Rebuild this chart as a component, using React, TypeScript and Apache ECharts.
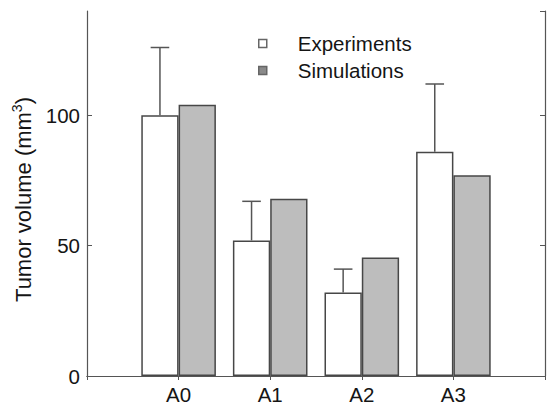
import React, { useEffect, useRef } from "react";
import * as echarts from "echarts";

const categories = ["", "A0", "A1", "A2", "A3", ""];
const experiments = [null, 100, 52, 32, 86, null];
const simulations = [null, 104, 68, 45.5, 77, null];
const expErrorTop = [null, 126, 67, 41, 112, null];
const yTicks = { min: 0, max: 140, interval: 50 };

const BAR_W = 37.3;
const AXIS_COLOR = "#555555";
const EDGE = "#474747";
const TEXT = "#151515";
const FONT = "'Liberation Sans', Arial, sans-serif";

export default function App() {
  const ref = useRef<HTMLDivElement>(null);
  useEffect(() => {
    if (!ref.current) return;
    const chart = echarts.init(ref.current, undefined, { renderer: "svg" });
    const errData = categories
      .map((_, i) => (experiments[i] == null ? null : [i, experiments[i], expErrorTop[i]]))
      .filter((d) => d != null);
    chart.setOption({
      animation: false,
      backgroundColor: "#ffffff",
      textStyle: { fontFamily: FONT },
      grid: { left: 87, right: 1, top: 11, bottom: 27, containLabel: false },
      legend: {
        left: 253,
        top: 28,
        orient: "vertical",
        icon: "rect",
        itemWidth: 8,
        itemHeight: 8,
        itemGap: 6,
        textStyle: { fontSize: 20.5, color: TEXT, fontFamily: FONT, padding: [0, 0, 0, 26] },
        data: [
          { name: "Experiments", itemStyle: { color: "#ffffff", borderColor: "#666", borderWidth: 1.5 } },
          { name: "Simulations", itemStyle: { color: "#8a8a8a", borderColor: "#666", borderWidth: 1.5 } },
        ],
      },
      xAxis: [
        {
          type: "category",
          data: categories,
          boundaryGap: false,
          position: "bottom",
          axisLine: { show: true, lineStyle: { color: AXIS_COLOR, width: 1.2 } },
          axisTick: { show: false },
          axisLabel: { fontSize: 20.5, color: TEXT, margin: 8, fontFamily: FONT },
          splitLine: { show: false },
        },
        {
          type: "category",
          data: categories,
          boundaryGap: false,
          position: "top",
          axisLine: { show: true, lineStyle: { color: AXIS_COLOR, width: 1.2 } },
          axisTick: { show: true, inside: true, length: 4, lineStyle: { color: AXIS_COLOR } },
          axisLabel: { show: false },
          splitLine: { show: false },
        },
      ],
      yAxis: [
        {
          type: "value",
          min: yTicks.min,
          max: yTicks.max,
          interval: yTicks.interval,
          position: "left",
          axisLine: { show: true, lineStyle: { color: AXIS_COLOR, width: 1.2 } },
          axisTick: { show: true, inside: true, length: 5, lineStyle: { color: AXIS_COLOR } },
          axisLabel: { fontSize: 20.5, color: TEXT, margin: 7, showMaxLabel: false, fontFamily: FONT },
          splitLine: { show: false },
          name: "{a|Tumor volume (mm}{s|3}{a|)}",
          nameLocation: "middle",
          nameRotate: 90,
          nameGap: 51,
          nameTextStyle: {
            padding: [0, 12, 0, 0],
            rich: {
              a: { fontSize: 22, color: TEXT, fontFamily: FONT, lineHeight: 26 },
              s: { fontSize: 14, color: TEXT, fontFamily: FONT, verticalAlign: "top", lineHeight: 12 },
            },
          },
        },
        {
          type: "value",
          min: yTicks.min,
          max: yTicks.max,
          interval: yTicks.interval,
          position: "right",
          axisLine: { show: true, lineStyle: { color: AXIS_COLOR, width: 1.2 } },
          axisTick: { show: true, inside: true, length: 5, lineStyle: { color: AXIS_COLOR } },
          axisLabel: { show: false },
          splitLine: { show: false },
        },
      ],
      series: [
        {
          name: "Experiments",
          type: "bar",
          data: experiments,
          barWidth: BAR_W,
          barGap: "0%",
          itemStyle: { color: "#ffffff", borderColor: EDGE, borderWidth: 1.5 },
        },
        {
          name: "Simulations",
          type: "bar",
          data: simulations,
          barWidth: BAR_W,
          barGap: "0%",
          itemStyle: { color: "#bdbdbd", borderColor: EDGE, borderWidth: 1.5 },
        },
        {
          name: "err",
          type: "custom",
          data: errData,
          encode: { x: 0, y: [1, 2] },
          z: 5,
          renderItem: (params: any, api: any) => {
            const lo = api.coord([api.value(0), api.value(1)]);
            const hi = api.coord([api.value(0), api.value(2)]);
            const x = lo[0] - BAR_W / 2;
            const half = 9.3;
            const style = { stroke: "#555555", lineWidth: 1.5 };
            return {
              type: "group",
              children: [
                { type: "line", shape: { x1: x, y1: lo[1], x2: x, y2: hi[1] }, style },
                { type: "line", shape: { x1: x - half, y1: hi[1], x2: x + half, y2: hi[1] }, style },
              ],
            };
          },
        },
      ],
    });
    return () => chart.dispose();
  }, []);
  return <div ref={ref} style={{ width: 548, height: 405, position: "absolute", left: 0, top: 0 }} />;
}
